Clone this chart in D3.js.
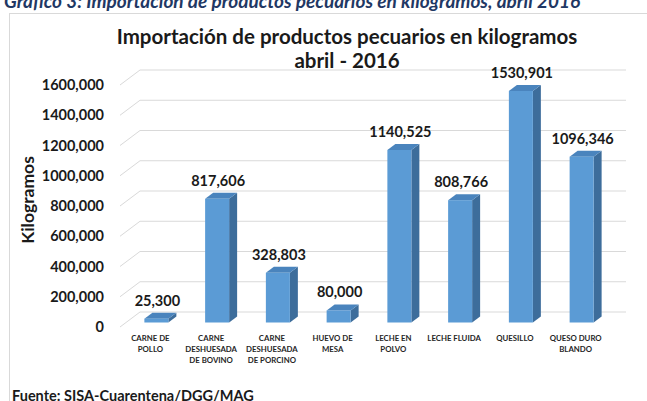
<!DOCTYPE html>
<html>
<head>
<meta charset="utf-8">
<script src="https://cdn.jsdelivr.net/npm/d3@7"></script>
<style>
  html, body { margin: 0; padding: 0; background: #fff; }
  svg { display: block; font-family: Lato, "Open Sans", sans-serif; }
</style>
</head>
<body>
<svg id="chart" width="647" height="401"></svg>
<script>
// Importaciones de productos pecuarios, abril 2016 (kg)
const categories = [
  ["CARNE DE", "POLLO"],
  ["CARNE", "DESHUESADA", "DE BOVINO"],
  ["CARNE", "DESHUESADA", "DE PORCINO"],
  ["HUEVO DE", "MESA"],
  ["LECHE EN", "POLVO"],
  ["LECHE FLUIDA"],
  ["QUESILLO"],
  ["QUESO DURO", "BLANDO"]
];
const values = [25300, 817606, 328803, 80000, 1140525, 808766, 1530901, 1096346];
const yTicks = [0, 200000, 400000, 600000, 800000, 1000000, 1200000, 1400000, 1600000];

const titleLines = ["Importación de productos pecuarios en kilogramos", "abril - 2016"];
const axisTitle = "Kilogramos";
const sourceNote = "Fuente: SISA-Cuarentena/DGG/MAG";
const headerText = "Gráfico 3: Importación de productos pecuarios en kilogramos, abril 2016";

// number style used on the sheet: only the last group is separated
function fmt(v) {
  if (v < 1000) return String(v);
  const hi = Math.floor(v / 1000), lo = v % 1000;
  return hi + "," + String(lo).padStart(3, "0");
}

const svg = d3.select("#chart");

// header caption above the chart frame
svg.append("text")
  .attr("x", 4).attr("y", 8)
  .attr("font-size", 19).attr("font-weight", 700).attr("font-style", "italic")
  .attr("fill", "#1f3864")
  .text(headerText);

// chart frame
svg.append("rect")
  .attr("x", 9.5).attr("y", 13.5).attr("width", 660).attr("height", 420)
  .attr("fill", "#fff").attr("stroke", "#d9d9d9").attr("stroke-width", 1);

// plot geometry (front plane of the floor, plus a depth offset)
const x0 = 120, x1 = 606;
const depth = { dx: 20, dy: -15 };
const x = d3.scaleBand().domain(d3.range(categories.length)).range([x0, x1]).paddingInner(0).paddingOuter(0);
const y = d3.scaleLinear().domain([0, 1600000]).range([327, 327 - 242]);

const grid = svg.append("g").attr("stroke", "#d9d9d9").attr("stroke-width", 1).attr("fill", "none");
yTicks.forEach(t => {
  const yf = y(t), yb = y(t) + depth.dy;
  grid.append("line").attr("x1", x0).attr("y1", yf).attr("x2", x0 + depth.dx).attr("y2", yb);
  grid.append("line").attr("x1", x0 + depth.dx).attr("y1", yb).attr("x2", x1 + depth.dx).attr("y2", yb);
});

// tick labels
svg.append("g").selectAll("text").data(yTicks).join("text")
  .attr("x", 104).attr("y", d => y(d))
  .attr("dy", "0.35em")
  .attr("text-anchor", "end")
  .attr("font-size", 14.5).attr("font-weight", 700).attr("fill", "#1a1a1a")
  .text(fmt);

// axis title
svg.append("text")
  .attr("transform", "translate(34,200) rotate(-90)")
  .attr("text-anchor", "middle")
  .attr("font-size", 17.5).attr("font-weight", 700).attr("fill", "#1a1a1a")
  .text(axisTitle);

// 3D columns
const front = 0.3, back = 0.7;
const bw = x.bandwidth() * 0.395;
const bars = svg.append("g");
values.forEach((v, i) => {
  const cx = x(i) + x.bandwidth() / 2;
  const fx = cx - bw / 2 + depth.dx * front;
  const fy0 = y(0) + depth.dy * front;
  const fy1 = y(v) + depth.dy * front;
  const ddx = depth.dx * (back - front), ddy = depth.dy * (back - front);
  // side
  bars.append("polygon")
    .attr("points", [[fx + bw, fy0], [fx + bw + ddx, fy0 + ddy], [fx + bw + ddx, fy1 + ddy], [fx + bw, fy1]].join(" "))
    .attr("fill", "#3d6d9b");
  // top
  bars.append("polygon")
    .attr("points", [[fx, fy1], [fx + ddx, fy1 + ddy], [fx + bw + ddx, fy1 + ddy], [fx + bw, fy1]].join(" "))
    .attr("fill", "#4a84bd");
  // front
  bars.append("rect")
    .attr("x", fx).attr("y", fy1).attr("width", bw).attr("height", fy0 - fy1)
    .attr("fill", "#5b9bd5");
  // value label
  bars.append("text")
    .attr("x", fx + bw / 2 + 1).attr("y", fy1 - 13)
    .attr("text-anchor", "middle")
    .attr("font-size", 14.5).attr("font-weight", 700).attr("fill", "#1a1a1a")
    .text(fmt(v));
});

// category labels
const cat = svg.append("g");
categories.forEach((lines, i) => {
  const cx = x(i) + x.bandwidth() / 2;
  const t = cat.append("text")
    .attr("text-anchor", "middle")
    .attr("font-size", 7.8).attr("font-weight", 700).attr("fill", "#262626");
  lines.forEach((ln, j) => {
    t.append("tspan").attr("x", cx).attr("y", 341 + j * 10.8).text(ln);
  });
});

// title
svg.append("g").selectAll("text").data(titleLines).join("text")
  .attr("x", 347).attr("y", (d, i) => 44 + i * 24)
  .attr("text-anchor", "middle")
  .attr("font-size", 20.5).attr("font-weight", 700).attr("fill", "#1a1a1a")
  .text(d => d);

// source note
svg.append("text")
  .attr("x", 12).attr("y", 401)
  .attr("font-size", 14.5).attr("font-weight", 700).attr("fill", "#1a1a1a")
  .text(sourceNote);
</script>
</body>
</html>
